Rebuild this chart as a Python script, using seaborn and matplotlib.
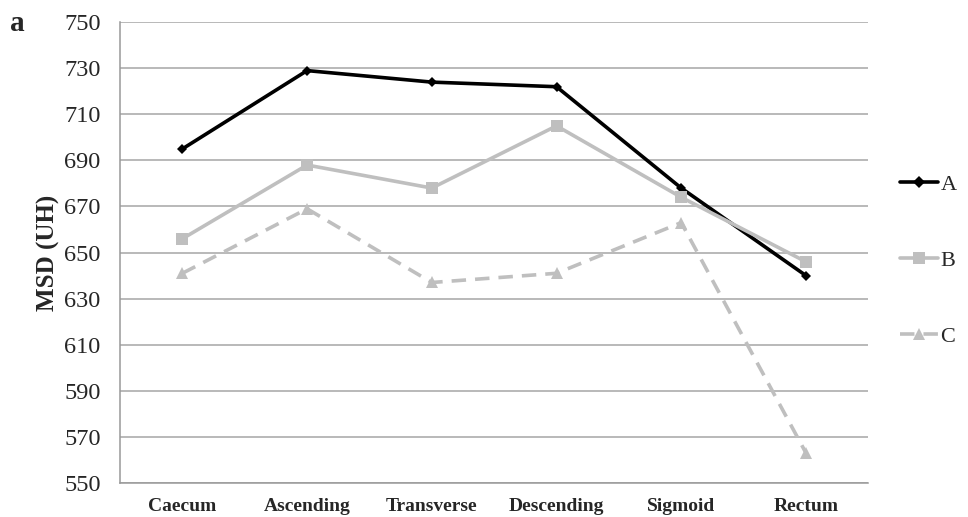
import matplotlib
matplotlib.use("Agg")
import matplotlib.pyplot as plt
import seaborn as sns
import pandas as pd
import numpy as np

categories = ["Caecum", "Ascending", "Transverse", "Descending", "Sigmoid", "Rectum"]
series_A = [695, 729, 724, 722, 678, 640]
series_B = [656, 688, 678, 705, 674, 646]
series_C = [641, 669, 637, 641, 663, 563]
series_names = ["A", "B", "C"]
y_ticks = [550, 570, 590, 610, 630, 650, 670, 690, 710, 730, 750]

rows = []
for name, vals in zip(series_names, [series_A, series_B, series_C]):
    for i, (c, v) in enumerate(zip(categories, vals)):
        rows.append({"pos": i, "Region": c, "MSD": v, "Group": name})
df = pd.DataFrame(rows)

sns.set_theme(style="white")
plt.rcParams["font.family"] = ["Liberation Serif", "DejaVu Serif"]

fig = plt.figure(figsize=(9.68, 5.17), dpi=100)
ax = fig.add_axes([0.124, 0.066, 0.773, 0.891])

palette = {"A": "#000000", "B": "#bfbfbf", "C": "#bfbfbf"}
markers = {"A": "D", "B": "s", "C": "^"}
dashes = {"A": "", "B": "", "C": (4, 2.5)}
sizes = {"A": 5, "B": 8, "C": 8}
legend_sizes = {"A": 6, "B": 8, "C": 8}

sns.lineplot(data=df, x="pos", y="MSD", hue="Group", style="Group",
             palette=palette, markers=markers, dashes=dashes,
             linewidth=2.6, markersize=7, markeredgewidth=0,
             ax=ax, legend=True)
for line, name in zip(ax.lines, series_names):
    line.set_markersize(sizes[name])

ax.set_xlim(-0.5, len(categories) - 0.5)
ax.set_ylim(550, 750)
ax.set_yticks(y_ticks)
ax.set_yticklabels([str(t) for t in y_ticks], fontsize=17.5)
ax.set_xticks(range(len(categories)))
ax.set_xticklabels(categories, fontsize=14, fontweight="bold")
ax.set_xticks(np.arange(-0.5, len(categories)), minor=True)
ax.tick_params(axis="x", which="major", length=0, pad=11)
ax.tick_params(axis="x", which="minor", length=5, color="#999999", direction="out", width=1)
ax.tick_params(axis="y", length=6, color="#999999", width=1, pad=8)
ax.grid(axis="y", color="#a6a6a6", linewidth=1.1)
ax.set_axisbelow(True)
for s in ["top", "right"]:
    ax.spines[s].set_visible(False)
for s in ["left", "bottom"]:
    ax.spines[s].set_color("#999999")
    ax.spines[s].set_linewidth(1.1)
ax.set_xlabel("")
ax.set_ylabel("MSD (UH)", fontsize=18, fontweight="bold", labelpad=3)

handles, labels = ax.get_legend_handles_labels()
for h, name in zip(handles, series_names):
    h.set_markersize(legend_sizes[name])
ax.legend(handles, labels, loc="center left", bbox_to_anchor=(1.043, 0.483),
          frameon=False, fontsize=16, labelspacing=2.5, handlelength=1.7,
          handletextpad=0.1, borderaxespad=0, borderpad=0)

fig.text(0.010, 0.955, "a", fontsize=21, fontweight="bold", va="center")

fig.savefig("out.png", dpi=100)
